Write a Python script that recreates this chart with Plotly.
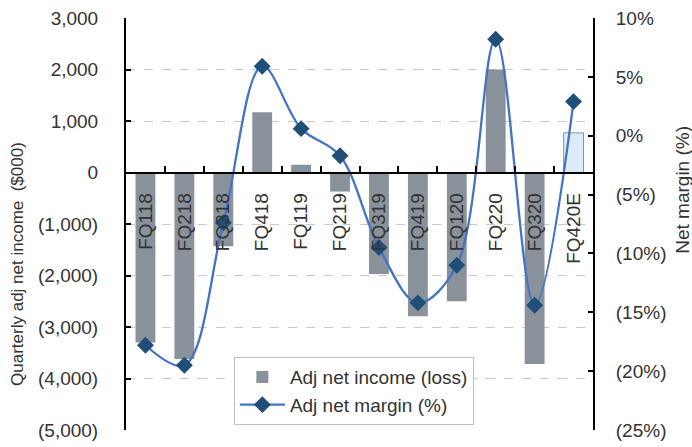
import plotly.graph_objects as go

categories = ["FQ118", "FQ218", "FQ318", "FQ418", "FQ119", "FQ219",
              "FQ319", "FQ419", "FQ120", "FQ220", "FQ320", "FQ420E"]
net_income = [-3300, -3620, -1430, 1170, 150, -370,
              -1970, -2790, -2500, 2000, -3720, 770]
net_margin = [-17.8, -19.5, -7.4, 5.9, 0.6, -1.7,
              -9.5, -14.2, -11.0, 8.2, -14.4, 2.9]

left_ticks = [3000, 2000, 1000, 0, -1000, -2000, -3000, -4000, -5000]
left_text = ["3,000", "2,000", "1,000", "0", "(1,000)", "(2,000)",
             "(3,000)", "(4,000)", "(5,000)"]
right_ticks = [10, 5, 0, -5, -10, -15, -20, -25]
right_text = ["10%", "5%", "0%", "(5%)", "(10%)", "(15%)", "(20%)", "(25%)"]

GRAY = "#89929b"
LIGHT = "#ddebf7"
bar_colors = [GRAY] * (len(categories) - 1) + [LIGHT]
bar_line_w = [0] * (len(categories) - 1) + [1]

FONT = "Liberation Sans, Arial, sans-serif"
TXT = "#333333"

fig = go.Figure()
fig.add_trace(go.Bar(
    x=categories, y=net_income, name="Adj net income (loss)",
    marker=dict(color=bar_colors, line=dict(color=GRAY, width=bar_line_w)),
    yaxis="y",
))
fig.add_trace(go.Scatter(
    x=categories, y=net_margin, name="Adj net margin (%)",
    mode="lines+markers",
    line=dict(color="#4472c4", width=2.3, shape="spline", smoothing=1),
    marker=dict(symbol="diamond", size=13, color="#1f4e79"),
    yaxis="y2",
))

fig.update_layout(
    width=692, height=447,
    margin=dict(l=126, r=99, t=18, b=17),
    paper_bgcolor="white", plot_bgcolor="white",
    font=dict(family=FONT, size=19, color=TXT),
    bargap=0.49,
    showlegend=True,
    legend=dict(
        x=0.231, y=0.177, xanchor="left", yanchor="top",
        bgcolor="white", bordercolor="#bfbfbf", borderwidth=1,
        font=dict(size=19, color=TXT), itemwidth=45,
        tracegroupgap=0,
    ),
    xaxis=dict(
        type="category", range=[-0.5, 11.5],
        anchor="free", position=0.625,
        showline=True, linecolor="black", linewidth=2,
        ticks="inside", tickson="boundaries", ticklen=6, tickwidth=1.5,
        tickcolor="black", tickangle=-90,
        tickfont=dict(size=19, color=TXT),
        ticklabelstandoff=12,
        showgrid=False, automargin=False, layer="above traces",
    ),
    yaxis=dict(
        range=[-5000, 3000], tickvals=left_ticks, ticktext=left_text,
        showline=True, linecolor="black", linewidth=2,
        ticks="inside", ticklen=5, tickwidth=1.5, tickcolor="black",
        showgrid=True, gridcolor="#c8c8c8", griddash="dash", gridwidth=1,
        zeroline=False, automargin=False,
        ticklabelstandoff=22,
        tickfont=dict(size=19, color=TXT),
    ),
    yaxis2=dict(
        range=[-25, 10], tickvals=right_ticks, ticktext=right_text,
        overlaying="y", side="right",
        showline=True, linecolor="black", linewidth=2,
        ticks="inside", ticklen=5, tickwidth=1.5, tickcolor="black",
        showgrid=False, zeroline=False, automargin=False,
        ticklabelstandoff=17,
        tickfont=dict(size=19, color=TXT),
    ),
    annotations=[
        dict(text="Quarterly adj net income  ($000)", textangle=-90,
             xref="paper", yref="paper", x=-0.2313, y=0.403,
             xanchor="center", yanchor="middle", showarrow=False,
             font=dict(size=17, color=TXT)),
        dict(text="Net margin (%)", textangle=-90,
             xref="paper", yref="paper", x=1.19, y=0.5825,
             xanchor="center", yanchor="middle", showarrow=False,
             font=dict(size=19, color=TXT)),
    ],
)

fig.write_html("out.html")
